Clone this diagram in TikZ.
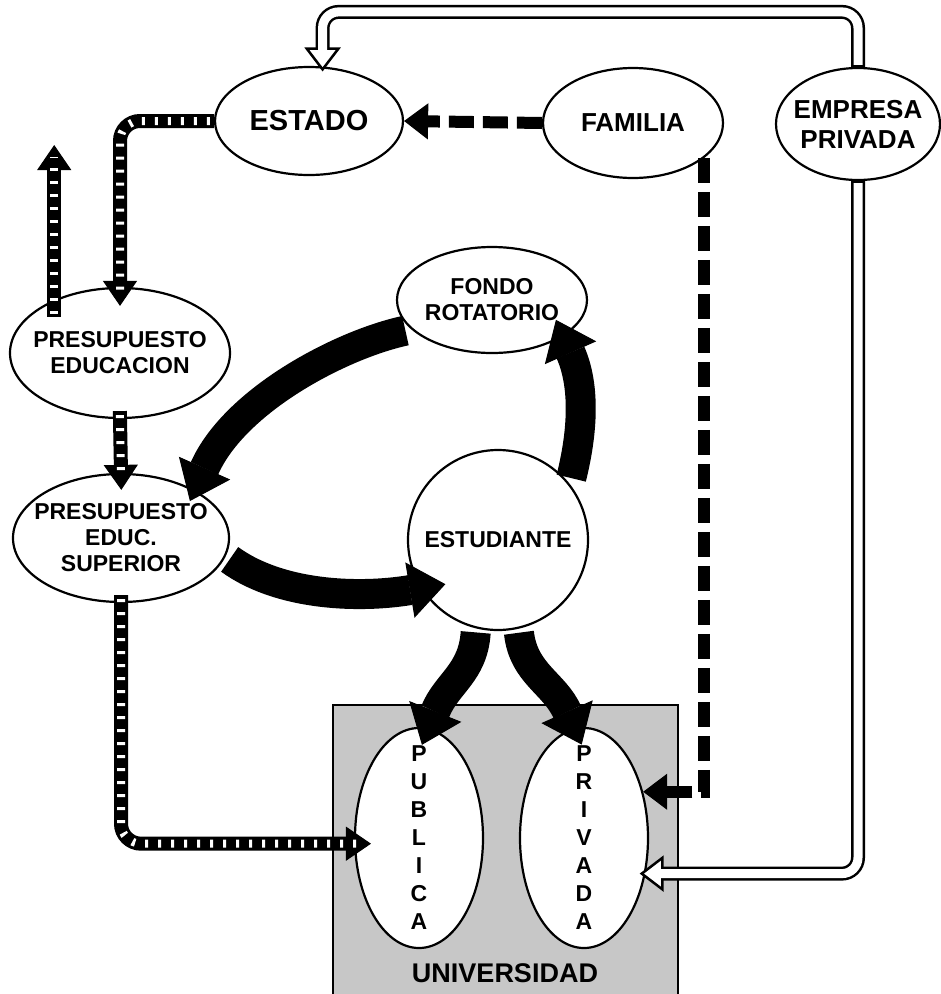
\documentclass[tikz,border=0pt]{standalone}
\usepackage{fontspec}
\setmainfont{Liberation Sans}
\usetikzlibrary{shapes.geometric,arrows.meta}

\begin{document}
\begin{tikzpicture}[x=1pt,y=-1pt,
   elip/.style={ellipse,draw,line width=2.2pt,fill=white,inner xsep=-45pt,inner ysep=-20pt,
      align=center,font=\bfseries\fontsize{23}{26}\selectfont},
   band/.style={line width=14pt,-{Triangle[length=25pt,width=34pt,line width=1pt]}},
   ladder/.style={white,line width=8pt,dash pattern=on 3pt off 10pt},
   dashband/.style={line width=12pt,dash pattern=on 25pt off 9pt,-{Triangle[length=24pt,width=36pt,line width=1pt]}},
   pipe/.style={line width=14pt,-{Triangle[fill=white,length=24pt,width=36pt,line width=2.5pt]}},
   pipein/.style={white,line width=9pt},
   flow/.style={line width=30pt,-{Triangle[length=36pt,width=56pt,line width=1pt]}}]
         \useasboundingbox (0,0) rectangle (941,994) ;
         %\draw[very thin,gray] (0,0) grid[step=50] (941,994) ;
         \node[draw,line width=2pt,fill=black!22,minimum width=345pt,minimum height=300pt,inner sep=0pt] (univ) at (505,855) {} ;
         \node[font=\bfseries\fontsize{27}{30}\selectfont] (univtxt) at (505,973) {UNIVERSIDAD} ;
         \node[elip,minimum width=188pt,minimum height=108pt,font=\bfseries\fontsize{29}{32}\selectfont] (estado) at (309,121) {ESTADO} ;
         \node[elip,minimum width=180pt,minimum height=110pt,font=\bfseries\fontsize{26}{30}\selectfont] (familia) at (633,123) {FAMILIA} ;
         \node[elip,minimum width=164pt,minimum height=112pt,font=\bfseries\fontsize{26}{30}\selectfont] (empresa) at (858,124) {EMPRESA\\PRIVADA} ;
         \node[elip,minimum width=220pt,minimum height=130pt] (presup) at (120,353) {PRESUPUESTO\\EDUCACION} ;
         \node[elip,minimum width=216pt,minimum height=128pt] (superior) at (121,538) {PRESUPUESTO\\EDUC.\\SUPERIOR} ;
         \node[elip,minimum width=190pt,minimum height=106pt] (fondo) at (492,300) {FONDO\\ROTATORIO} ;
         \node[circle,draw,line width=2.2pt,fill=white,minimum size=180pt,inner sep=0pt,
            font=\bfseries\fontsize{23}{26}\selectfont] (estud) at (498,540) {ESTUDIANTE} ;
         \node[elip,minimum width=128pt,minimum height=220pt,font=\bfseries\fontsize{23}{28}\selectfont] (publica) at (419,838) {P\\U\\B\\L\\I\\C\\A} ;
         \node[elip,minimum width=128pt,minimum height=220pt,font=\bfseries\fontsize{23}{28}\selectfont] (privada) at (584,838) {P\\R\\I\\V\\A\\D\\A} ;
         % striped flows of the budget
         \draw[band,rounded corners=20pt,shorten >=-19pt] (estado.west) -| (presup.north) ;
         \draw[ladder,rounded corners=20pt,shorten <=4pt,shorten >=-7pt] (estado.west) -| (presup.north) ;
         \coordinate (salida) at (55,145) ;
         \draw[band,shorten <=-17pt] (presup.141) -- (presup.141 |- salida) ;
         \draw[ladder,shorten <=-14pt,shorten >=12pt] (presup.141) -- (presup.141 |- salida) ;
         \draw[band,shorten <=-8pt,shorten >=-17pt] (presup.south) -- (superior.north) ;
         \draw[ladder,shorten <=-4pt,shorten >=-5pt] (presup.south) -- (superior.north) ;
         \draw[band,rounded corners=20pt,shorten <=-8pt,shorten >=-17pt] (superior.south) |- (publica.185) ;
         \draw[ladder,rounded corners=20pt,shorten <=-4pt,shorten >=-5pt] (superior.south) |- (publica.185) ;
         % family money
         \draw[dashband] (familia.west) -- (estado.east) ;
         \draw[dashband] (familia.334) |- (privada.38) ;
         % private companies
         \draw[pipe,rounded corners=16pt,shorten >=-5pt] (empresa.north) -- ++(0,-55) -| (estado.76) ;
         \draw[pipein,rounded corners=16pt,shorten <=2pt,shorten >=14pt] (empresa.north) -- ++(0,-55) -| (estado.76) ;
         \draw[pipe,rounded corners=16pt,shorten >=-6pt] (empresa.south) |- (privada.330) ;
         \draw[pipein,rounded corners=16pt,shorten <=2pt,shorten >=13pt] (empresa.south) |- (privada.330) ;
         % the loop round the student
         \draw[flow,shorten <=6pt,shorten >=-12pt] (fondo.200) .. controls +(-70,15) and +(40,-90) .. (superior.33) ;
         \draw[flow,shorten <=5pt,shorten >=-25pt] (superior.350) .. controls +(55,40) and +(-60,10) .. (estud.212) ;
         \draw[flow,shorten <=6pt,shorten >=-18pt] (estud.38) .. controls +(15,-60) and +(20,45) .. (fondo.333) ;
         \draw[flow,shorten <=4pt,shorten >=-18pt] (estud.256) .. controls +(-3,45) and +(18,-45) .. (publica.85) ;
         \draw[flow,shorten <=4pt,shorten >=-18pt] (estud.283) .. controls +(5,45) and +(-20,-45) .. (privada.95) ;
\end{tikzpicture}
\end{document}
